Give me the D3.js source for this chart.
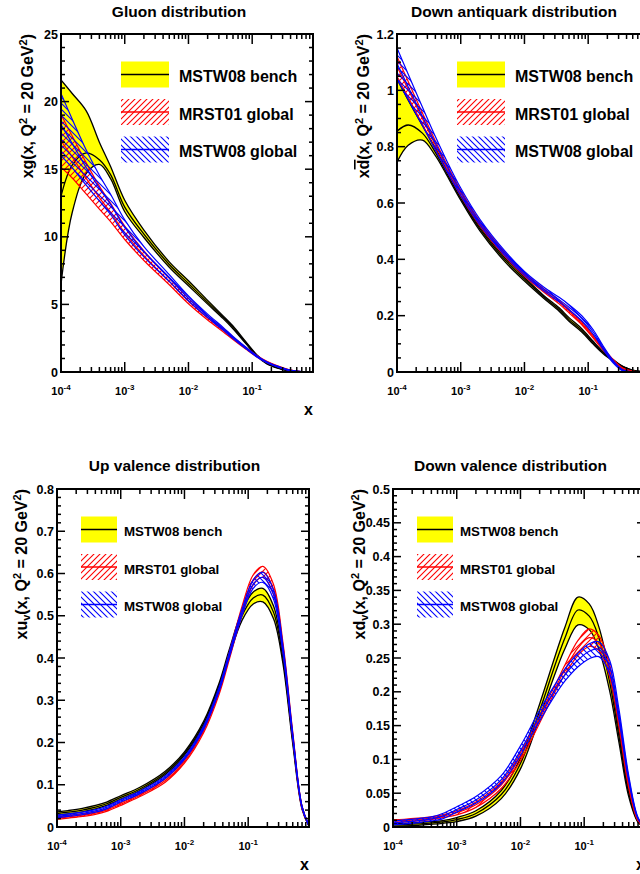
<!DOCTYPE html>
<html><head><meta charset="utf-8">
<script src="https://cdn.jsdelivr.net/npm/d3@7"></script>
<style>
body{margin:0;background:#fff;}
svg{display:block;}
text{font-family:"Liberation Sans",Arial,Helvetica,sans-serif;font-weight:bold;fill:#000;}
</style></head><body>
<svg id="c" width="640" height="874"></svg>
<script>
// ---------- data ----------
const xGrid = [1e-4, 1.5e-4, 2.5e-4, 4e-4, 6e-4, 1e-3, 2e-3, 5e-3, 1e-2, 2e-2, 3.5e-2, 5e-2, 0.08, 0.12, 0.17, 0.25, 0.35, 0.5, 0.7, 0.9];
const xTickExps = [-4, -3, -2, -1];
const legendLabels = ["MSTW08 bench", "MRST01 global", "MSTW08 global"];

// Gluon
const gluonTicks = [0, 5, 10, 15, 20, 25];
const gluonBenchHi = [21.6, 20.6, 19.3, 17.0, 15.2, 12.7, 10.5, 8.15, 6.75, 5.3, 4.15, 3.4, 2.22, 1.25, 0.68, 0.32, 0.13, 0.03, 0.003, 0];
const gluonBenchC  = [13.0, 15.3, 16.2, 15.7, 14.6, 12.2, 10.2, 7.95, 6.55, 5.15, 4.05, 3.3, 2.15, 1.2, 0.64, 0.3, 0.12, 0.028, 0.002, 0];
const gluonBenchLo = [6.5, 11.8, 14.7, 15.35, 14.3, 11.85, 9.95, 7.75, 6.38, 5.02, 3.95, 3.2, 2.08, 1.15, 0.6, 0.28, 0.11, 0.025, 0.002, 0];
const gluonRedC    = [17.1, 15.9, 14.3, 12.9, 11.8, 10.3, 8.6, 6.7, 5.25, 4.0, 3.1, 2.5, 1.75, 1.15, 0.75, 0.42, 0.2, 0.06, 0.008, 0];
const gluonRedErr  = [1.95, 1.55, 1.15, 0.85, 0.68, 0.5, 0.35, 0.25, 0.2, 0.15, 0.12, 0.1, 0.07, 0.05, 0.04, 0.03, 0.02, 0.01, 0.003, 0];
const gluonBlueC   = [18.3, 16.9, 15.1, 13.6, 12.4, 10.7, 8.9, 6.95, 5.45, 4.15, 3.2, 2.55, 1.77, 1.14, 0.72, 0.4, 0.18, 0.05, 0.006, 0];
const gluonBlueErr = [2.3, 1.8, 1.3, 0.95, 0.75, 0.55, 0.38, 0.25, 0.18, 0.13, 0.1, 0.08, 0.06, 0.05, 0.04, 0.03, 0.02, 0.01, 0.003, 0];

// Down antiquark
const dbarTicks = [0, 0.2, 0.4, 0.6, 0.8, 1, 1.2];
const dbarBenchHi = [1.04, 0.965, 0.875, 0.795, 0.718, 0.625, 0.515, 0.404, 0.336, 0.272, 0.228, 0.193, 0.153, 0.109, 0.073, 0.043, 0.02, 0.007, 0.001, 0];
const dbarBenchC  = [0.855, 0.877, 0.848, 0.78, 0.708, 0.617, 0.508, 0.397, 0.33, 0.267, 0.222, 0.186, 0.147, 0.104, 0.07, 0.041, 0.019, 0.006, 0.001, 0];
const dbarBenchLo = [0.745, 0.805, 0.823, 0.768, 0.7, 0.61, 0.501, 0.39, 0.323, 0.262, 0.216, 0.18, 0.141, 0.099, 0.066, 0.038, 0.017, 0.005, 0.0005, 0];
const dbarRedC    = [1.085, 1.003, 0.9, 0.805, 0.727, 0.635, 0.527, 0.416, 0.346, 0.29, 0.248, 0.216, 0.172, 0.125, 0.083, 0.04, 0.012, 0.002, 0, 0];
const dbarRedErr  = [0.035, 0.028, 0.02, 0.015, 0.012, 0.01, 0.008, 0.007, 0.006, 0.006, 0.006, 0.006, 0.005, 0.005, 0.004, 0.003, 0.002, 0.001, 0, 0];
const dbarBlueC   = [1.095, 1.012, 0.908, 0.812, 0.733, 0.64, 0.532, 0.42, 0.35, 0.295, 0.257, 0.23, 0.19, 0.142, 0.088, 0.035, 0.006, 0, 0, 0];
const dbarBlueErr = [0.055, 0.045, 0.033, 0.024, 0.018, 0.013, 0.01, 0.008, 0.007, 0.007, 0.008, 0.009, 0.009, 0.008, 0.006, 0.004, 0.002, 0.001, 0, 0];

// Up valence
const uvTicks = [0, 0.1, 0.2, 0.3, 0.4, 0.5, 0.6, 0.7, 0.8];
const uvBenchHi = [0.036, 0.039, 0.044, 0.051, 0.059, 0.074, 0.094, 0.132, 0.178, 0.25, 0.341, 0.418, 0.511, 0.556, 0.565, 0.523, 0.412, 0.213, 0.048, 0.004];
const uvBenchC  = [0.032, 0.035, 0.04, 0.047, 0.055, 0.07, 0.09, 0.128, 0.174, 0.245, 0.335, 0.41, 0.5, 0.542, 0.549, 0.508, 0.40, 0.205, 0.045, 0.003];
const uvBenchLo = [0.028, 0.031, 0.036, 0.043, 0.051, 0.066, 0.086, 0.124, 0.170, 0.24, 0.329, 0.402, 0.489, 0.528, 0.533, 0.493, 0.388, 0.197, 0.042, 0.002];
const uvRedC    = [0.021, 0.024, 0.028, 0.033, 0.04, 0.054, 0.075, 0.11, 0.155, 0.228, 0.32, 0.402, 0.512, 0.585, 0.604, 0.562, 0.428, 0.218, 0.046, 0.003];
const uvRedErr  = [0.003, 0.003, 0.003, 0.003, 0.003, 0.003, 0.003, 0.004, 0.004, 0.005, 0.006, 0.008, 0.01, 0.012, 0.013, 0.012, 0.01, 0.007, 0.003, 0.001];
const uvBlueC   = [0.025, 0.028, 0.032, 0.038, 0.046, 0.062, 0.082, 0.118, 0.163, 0.235, 0.326, 0.405, 0.508, 0.575, 0.591, 0.55, 0.422, 0.216, 0.047, 0.003];
const uvBlueErr = [0.003, 0.003, 0.003, 0.003, 0.003, 0.003, 0.003, 0.003, 0.003, 0.004, 0.005, 0.006, 0.008, 0.01, 0.012, 0.011, 0.009, 0.006, 0.002, 0.001];

// Down valence
const dvTicks = [0, 0.05, 0.1, 0.15, 0.2, 0.25, 0.3, 0.35, 0.4, 0.45, 0.5];
const dvBenchHi = [0.005, 0.0055, 0.0065, 0.008, 0.0095, 0.014, 0.024, 0.054, 0.102, 0.182, 0.253, 0.296, 0.34, 0.33, 0.296, 0.228, 0.144, 0.055, 0.009, 0];
const dvBenchC  = [0.003, 0.0035, 0.0045, 0.006, 0.0075, 0.011, 0.02, 0.048, 0.094, 0.172, 0.24, 0.28, 0.321, 0.312, 0.28, 0.215, 0.135, 0.05, 0.008, 0];
const dvBenchLo = [0.001, 0.0015, 0.0025, 0.004, 0.0055, 0.008, 0.016, 0.042, 0.086, 0.162, 0.227, 0.264, 0.299, 0.292, 0.263, 0.202, 0.126, 0.045, 0.007, 0];
const dvRedC    = [0.009, 0.0095, 0.011, 0.013, 0.016, 0.021, 0.033, 0.062, 0.104, 0.16, 0.205, 0.233, 0.265, 0.28, 0.272, 0.232, 0.156, 0.062, 0.01, 0];
const dvRedErr  = [0.002, 0.002, 0.002, 0.002, 0.002, 0.003, 0.004, 0.005, 0.006, 0.006, 0.005, 0.007, 0.011, 0.013, 0.011, 0.009, 0.007, 0.004, 0.001, 0];
const dvBlueC   = [0.006, 0.0075, 0.0095, 0.012, 0.016, 0.026, 0.04, 0.07, 0.113, 0.165, 0.203, 0.225, 0.247, 0.26, 0.263, 0.237, 0.167, 0.072, 0.013, 0];
const dvBlueErr = [0.003, 0.003, 0.003, 0.003, 0.004, 0.004, 0.005, 0.006, 0.007, 0.008, 0.008, 0.009, 0.01, 0.011, 0.011, 0.01, 0.008, 0.004, 0.001, 0];

// ---------- drawing ----------
const svg = d3.select('#c');
const defs = svg.append('defs');
function hatch(id, color, dir) {
  const p = defs.append('pattern').attr('id', id).attr('patternUnits', 'userSpaceOnUse')
    .attr('width', 6).attr('height', 6);
  const d = dir > 0 ? 'M0,6L6,0M-1,1L1,-1M5,7L7,5' : 'M0,0L6,6M-1,5L1,7M5,-1L7,1';
  p.append('path').attr('d', d).attr('stroke', color).attr('stroke-width', 1.1).attr('fill', 'none');
}
hatch('hRed', '#ff0000', 1);
hatch('hBlue', '#0000ff', -1);

const W = 252, H = 338;
const panels = [
  {id: 'g', left: 61, top: 34, yMax: 25, ticks: gluonTicks, minor: 1, title: 'Gluon distribution', tx: 179, ty: 17,
   yt: [['xg(x, Q'], ['2', 'sup'], [' = 20 GeV'], ['2', 'sup'], [')']], ytx: 33, big: true,
   bench: [gluonBenchLo, gluonBenchC, gluonBenchHi], red: [gluonRedC, gluonRedErr], blue: [gluonBlueC, gluonBlueErr]},
  {id: 'd', left: 397, top: 34, yMax: 1.2, ticks: dbarTicks, minor: 0.05, title: 'Down antiquark distribution', tx: 514, ty: 17,
   yt: [['x'], ['d', 'over'], ['(x, Q'], ['2', 'sup'], [' = 20 GeV'], ['2', 'sup'], [')']], ytx: 369, big: true,
   bench: [dbarBenchLo, dbarBenchC, dbarBenchHi], red: [dbarRedC, dbarRedErr], blue: [dbarBlueC, dbarBlueErr]},
  {id: 'u', left: 57, top: 489, yMax: 0.8, ticks: uvTicks, minor: 0.02, title: 'Up valence distribution', tx: 174.5, ty: 471,
   yt: [['xu'], ['v', 'sub'], ['(x, Q'], ['2', 'sup'], [' = 20 GeV'], ['2', 'sup'], [')']], ytx: 27, big: false,
   bench: [uvBenchLo, uvBenchC, uvBenchHi], red: [uvRedC, uvRedErr], blue: [uvBlueC, uvBlueErr]},
  {id: 'v', left: 393, top: 489, yMax: 0.5, ticks: dvTicks, minor: 0.01, title: 'Down valence distribution', tx: 510.5, ty: 471,
   yt: [['xd'], ['v', 'sub'], ['(x, Q'], ['2', 'sup'], [' = 20 GeV'], ['2', 'sup'], [')']], ytx: 365, big: false,
   bench: [dvBenchLo, dvBenchC, dvBenchHi], red: [dvRedC, dvRedErr], blue: [dvBlueC, dvBlueErr]}
];

const curve = d3.curveCatmullRom.alpha(0.5);

panels.forEach(P => {
  const x = d3.scaleLog().domain([1e-4, 0.9]).range([P.left, P.left + W]);
  const y = d3.scaleLinear().domain([0, P.yMax]).range([P.top + H, P.top]);
  const g = svg.append('g');

  defs.append('clipPath').attr('id', 'clip' + P.id).append('rect')
    .attr('x', P.left).attr('y', P.top).attr('width', W).attr('height', H);
  const cg = g.append('g').attr('clip-path', `url(#clip${P.id})`);

  const area = d3.area().x((d, i) => x(xGrid[i])).y0(d => y(d[0])).y1(d => y(d[1])).curve(curve);
  const line = d3.line().x((d, i) => x(xGrid[i])).y(d => y(d)).curve(curve);

  // bench band
  const [bLo, bC, bHi] = P.bench;
  cg.append('path').datum(bLo.map((v, i) => [v, bHi[i]])).attr('d', area).attr('fill', '#ffff00');
  [bHi, bC, bLo].forEach(a => cg.append('path').datum(a).attr('d', line)
    .attr('fill', 'none').attr('stroke', '#000').attr('stroke-width', 1.3));

  // global bands
  [[P.red, '#ff0000', 'hRed'], [P.blue, '#0000ff', 'hBlue']].forEach(([s, col, pat]) => {
    const [c, e] = s;
    const lo = c.map((v, i) => v - e[i]);
    const hi = c.map((v, i) => v + e[i]);
    cg.append('path').datum(lo.map((v, i) => [v, hi[i]])).attr('d', area).attr('fill', `url(#${pat})`);
    [hi, c, lo].forEach(a => cg.append('path').datum(a).attr('d', line)
      .attr('fill', 'none').attr('stroke', col).attr('stroke-width', 1.2));
  });

  // frame
  g.append('rect').attr('x', P.left).attr('y', P.top).attr('width', W).attr('height', H)
    .attr('fill', 'none').attr('stroke', '#000').attr('stroke-width', 2);

  // x ticks (bottom and top, inward)
  const xt = [];
  xTickExps.forEach(ex => { for (let k = 1; k <= 9; k++) { const v = k * Math.pow(10, ex); if (v <= 0.9 + 1e-9) xt.push({v, major: k === 1}); } });
  xt.forEach(t => {
    const px = x(t.v), L = t.major ? 10 : 5;
    g.append('line').attr('x1', px).attr('x2', px).attr('y1', P.top + H).attr('y2', P.top + H - L)
      .attr('stroke', '#000').attr('stroke-width', 1.5);
    g.append('line').attr('x1', px).attr('x2', px).attr('y1', P.top).attr('y2', P.top + L)
      .attr('stroke', '#000').attr('stroke-width', 1.5);
  });
  xTickExps.forEach(ex => {
    const t = g.append('text').attr('x', x(Math.pow(10, ex))).attr('y', P.top + H + 23)
      .attr('text-anchor', 'middle').attr('font-size', 11);
    t.append('tspan').text('10');
    t.append('tspan').attr('font-size', 8).attr('dy', -5).text(String(ex));
  });
  g.append('text').attr('x', P.left + W).attr('y', P.top + H + 43).attr('text-anchor', 'end')
    .attr('font-size', 16).text('x');

  // y ticks
  const nMinor = Math.round(P.yMax / P.minor);
  const majorStep = P.ticks[1] - P.ticks[0];
  for (let i = 0; i <= nMinor; i++) {
    const v = i * P.minor;
    const major = Math.abs(v / majorStep - Math.round(v / majorStep)) < 1e-6;
    const L = major ? 8 : 4, py = y(v);
    g.append('line').attr('x1', P.left).attr('x2', P.left + L).attr('y1', py).attr('y2', py)
      .attr('stroke', '#000').attr('stroke-width', 1.5);
    g.append('line').attr('x1', P.left + W).attr('x2', P.left + W - L).attr('y1', py).attr('y2', py)
      .attr('stroke', '#000').attr('stroke-width', 1.5);
  }
  P.ticks.forEach(v => {
    g.append('text').attr('x', P.left - 3).attr('y', y(v)).attr('dy', '0.36em')
      .attr('text-anchor', 'end').attr('font-size', 12.5).text(String(v));
  });

  // title
  g.append('text').attr('x', P.tx).attr('y', P.ty).attr('text-anchor', 'middle')
    .attr('font-size', 15.5).text(P.title);

  // y title
  const yt = g.append('text').attr('transform', `translate(${P.ytx},${P.top}) rotate(-90)`)
    .attr('text-anchor', 'end').attr('font-size', 16);
  P.yt.forEach(([s, k]) => {
    const ts = yt.append('tspan').text(s);
    if (k === 'sup') ts.attr('font-size', 11).attr('baseline-shift', '55%');
    if (k === 'sub') ts.attr('font-size', 11).attr('baseline-shift', '-25%');
    if (k === 'over') ts.style('text-decoration', 'overline');
  });

  // legend
  const lg = g.append('g');
  const sx = P.big ? P.left + 60 : P.left + 24;
  const sw = P.big ? 48 : 36;
  const fs = P.big ? 16 : 13.3;
  const tx = P.big ? P.left + 118 : P.left + 67;
  const rows = [P.top + 40.5, P.top + 78, P.top + 115.5];
  const styles = [['#ffff00', '#000'], ['url(#hRed)', '#ff0000'], ['url(#hBlue)', '#0000ff']];
  legendLabels.forEach((lab, i) => {
    const cy = rows[i];
    lg.append('rect').attr('x', sx).attr('y', cy - 13).attr('width', sw).attr('height', 26).attr('fill', styles[i][0]);
    lg.append('line').attr('x1', sx).attr('x2', sx + sw).attr('y1', cy).attr('y2', cy)
      .attr('stroke', styles[i][1]).attr('stroke-width', 1.5);
    lg.append('text').attr('x', tx).attr('y', cy + 0.36 * fs + 1.8).attr('font-size', fs).text(lab);
  });
});
</script>
</body></html>
